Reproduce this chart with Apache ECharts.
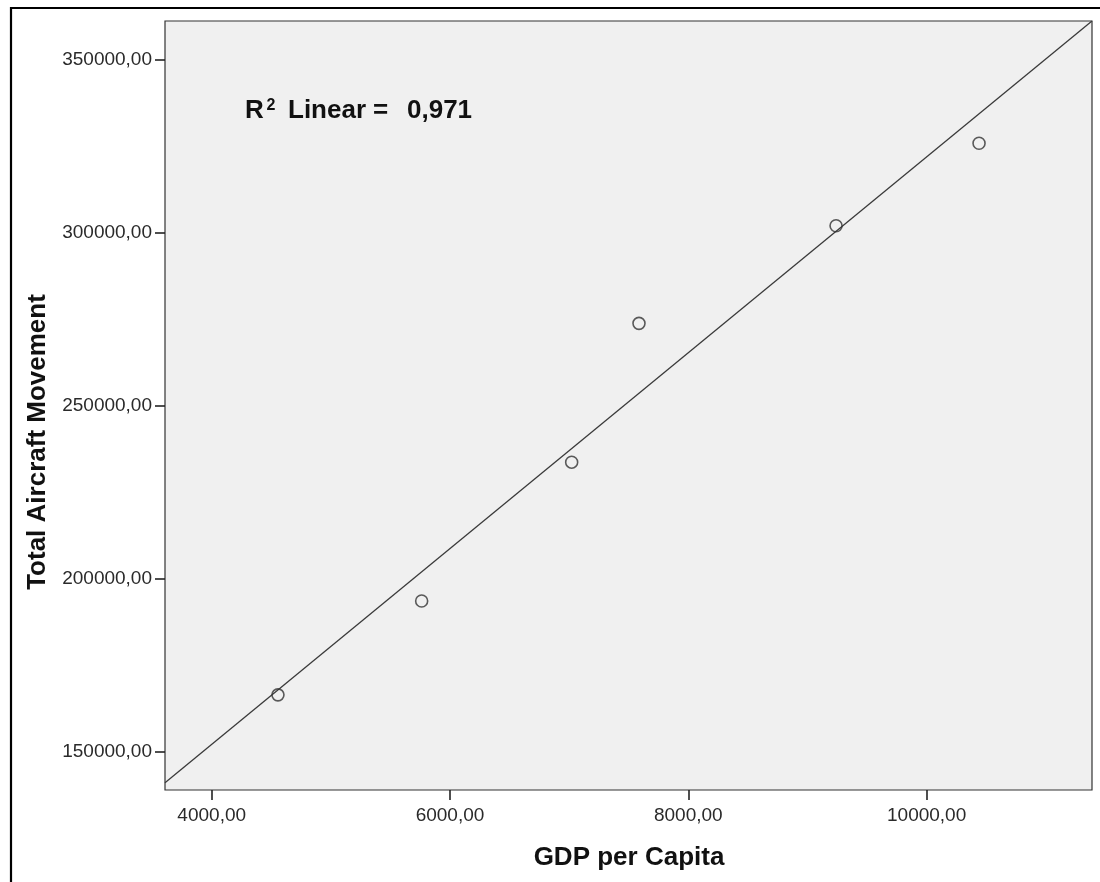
<!DOCTYPE html>
<html><head><meta charset="utf-8">
<script src="https://cdn.jsdelivr.net/npm/echarts@6/dist/echarts.min.js"></script>
<style>html,body{margin:0;padding:0;background:#fff}#c{width:1100px;height:882px}</style>
</head><body><div id="c"></div>
<script>
// Data
const gdpPerCapita = [4556, 5762, 7021, 7586, 9240, 10440];
const aircraftMovement = [166500, 193600, 233700, 273800, 302000, 325800];
// Fit line endpoints
const fitLineX = [3608, 11388];
const fitLineY = [141100, 361100];
// Axis ticks and ranges
const xTicks = [4000, 6000, 8000, 10000];
const yTicks = [150000, 200000, 250000, 300000, 350000];
const xRange = [3608, 11388];
const yRange = [139025, 361119];
const xTitle = 'GDP per Capita';
const yTitle = 'Total Aircraft Movement';
const r2Value = '0,971';

const FONT = '"Liberation Sans", Arial, sans-serif';
const fmt = v => v.toFixed(2).replace('.', ',');

const chart = echarts.init(document.getElementById('c'), null, {renderer: 'canvas'});
chart.setOption({
  animation: false,
  backgroundColor: '#ffffff',
  grid: {
    left: 165, top: 21, width: 927, height: 769,
    show: true, backgroundColor: '#f0f0f0', borderColor: '#333', borderWidth: 1.2
  },
  xAxis: {
    type: 'value', min: xRange[0], max: xRange[1],
    axisLine: {show: false},
    splitLine: {show: false},
    axisTick: {show: true, inside: false, length: 10, customValues: xTicks, lineStyle: {color: '#222', width: 1.6}},
    axisLabel: {show: true, margin: 16, customValues: xTicks, formatter: fmt,
      color: '#2a2a2a', fontSize: 19, fontFamily: FONT}
  },
  yAxis: {
    type: 'value', min: yRange[0], max: yRange[1],
    axisLine: {show: false},
    splitLine: {show: false},
    axisTick: {show: true, inside: false, length: 10, customValues: yTicks, lineStyle: {color: '#222', width: 1.6}},
    axisLabel: {show: true, margin: 13, customValues: yTicks, formatter: fmt,
      color: '#2a2a2a', fontSize: 19, fontFamily: FONT, padding: [5, 0, 0, 0]}
  },
  series: [
    {
      type: 'line', silent: true, showSymbol: false, symbol: 'none',
      data: fitLineX.map((x, i) => [x, fitLineY[i]]),
      lineStyle: {color: '#3a3a3a', width: 1.3}, z: 2
    },
    {
      type: 'scatter', silent: true, symbol: 'circle', symbolSize: 12,
      data: gdpPerCapita.map((x, i) => [x, aircraftMovement[i]]),
      itemStyle: {color: 'rgba(0,0,0,0)', borderColor: '#333', borderWidth: 1.6}, z: 3
    }
  ],
  graphic: [
    {type: 'rect', silent: true, z: 100, shape: {x: 11, y: 8, width: 1200, height: 1000},
      style: {fill: 'none', stroke: '#000', lineWidth: 2.2}},
    {type: 'text', silent: true, x: 629, y: 858,
      style: {text: xTitle, font: 'bold 26px ' + FONT, fill: '#111',
        align: 'center', verticalAlign: 'middle', textAlign: 'center', textVerticalAlign: 'middle'}},
    {type: 'text', silent: true, x: 38, y: 442, rotation: Math.PI / 2,
      style: {text: yTitle, font: 'bold 26px ' + FONT, fill: '#111',
        align: 'center', verticalAlign: 'middle', textAlign: 'center', textVerticalAlign: 'middle'}},
    {type: 'text', silent: true, x: 245, y: 111,
      style: {text: 'R', font: 'bold 26px ' + FONT, fill: '#111',
        align: 'left', verticalAlign: 'middle', textAlign: 'left', textVerticalAlign: 'middle'}},
    {type: 'text', silent: true, x: 266.5, y: 106,
      style: {text: '2', font: 'bold 16px ' + FONT, fill: '#111',
        align: 'left', verticalAlign: 'middle', textAlign: 'left', textVerticalAlign: 'middle'}},
    {type: 'text', silent: true, x: 288, y: 111,
      style: {text: 'Linear', font: 'bold 26px ' + FONT, fill: '#111',
        align: 'left', verticalAlign: 'middle', textAlign: 'left', textVerticalAlign: 'middle'}},
    {type: 'text', silent: true, x: 373, y: 111,
      style: {text: '=', font: 'bold 26px ' + FONT, fill: '#111',
        align: 'left', verticalAlign: 'middle', textAlign: 'left', textVerticalAlign: 'middle'}},
    {type: 'text', silent: true, x: 407, y: 111,
      style: {text: r2Value, font: 'bold 26px ' + FONT, fill: '#111',
        align: 'left', verticalAlign: 'middle', textAlign: 'left', textVerticalAlign: 'middle'}}
  ]
});
</script>
</body></html>
